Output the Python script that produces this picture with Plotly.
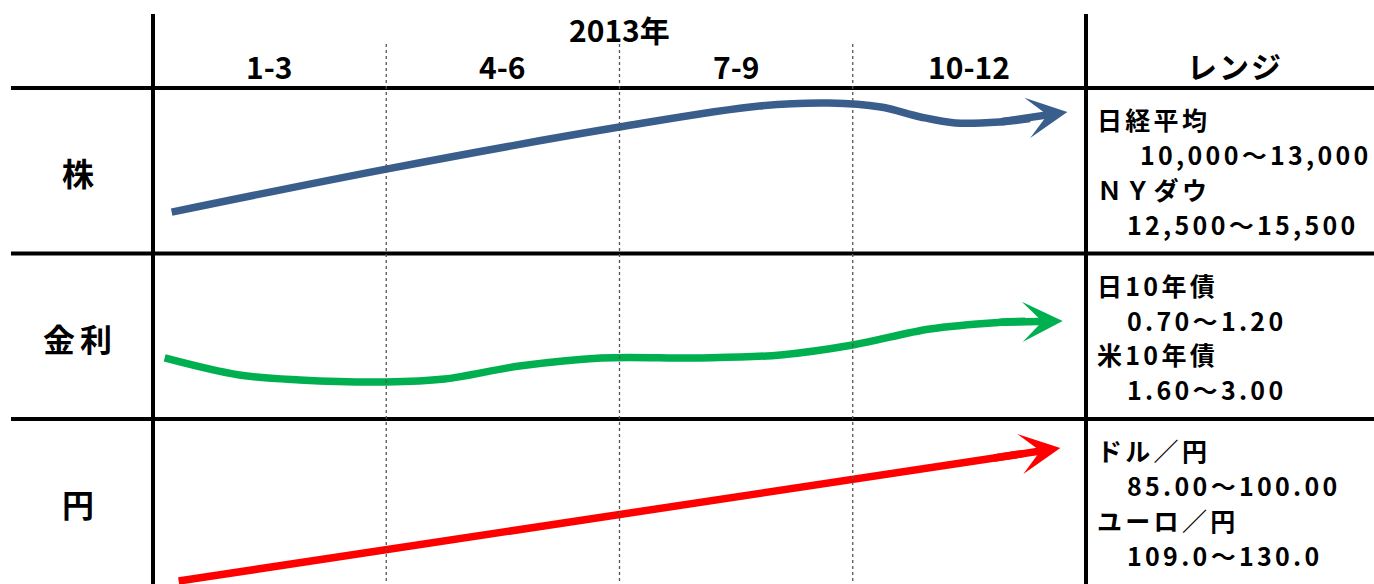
import plotly.graph_objects as go

# ---------------- data ----------------
year_label = "2013年"
quarters = ["1-3", "4-6", "7-9", "10-12"]
range_header = "レンジ"
rows = ["株", "金利", "円"]

# trend paths: x = quarters elapsed in 2013 (0 = start of Jan, 4 = end of Dec),
# y = level inside the row (0 = top edge of the row, 1 = bottom edge)
stock_x = [0.08, 1.00, 2.00, 2.60, 2.90, 3.12, 3.29, 3.44, 3.63, 3.76, 3.92]
stock_y = [0.75, 0.49, 0.236, 0.109, 0.091, 0.115, 0.175, 0.211, 0.205, 0.185, 0.145]

rate_x = [0.05, 0.37, 0.63, 1.00, 1.25, 1.57, 1.92, 2.35, 2.69, 3.00, 3.33, 3.63, 3.74, 3.90]
rate_y = [0.631, 0.734, 0.764, 0.776, 0.758, 0.680, 0.631, 0.631, 0.613, 0.553, 0.456, 0.416, 0.410, 0.408]

yen_x = [0.11, 3.60, 3.73, 3.89]
yen_y = [0.979, 0.237, 0.209, 0.175]

stock_range = ["日経平均", "10,000～13,000", "ＮＹダウ", "12,500～15,500"]
rate_range = ["日10年債", "0.70～1.20", "米10年債", "1.60～3.00"]
yen_range = ["ドル／円", "85.00～100.00", "ユーロ／円", "109.0～130.0"]

# ---------------- layout constants (pixels) ----------------
W, H = 1374, 584
PX_LEFT, PX_Q = 153.0, 233.25    # x pixel of quarter 0, pixels per quarter
PX_TOP, PX_ROW = 88.0, 165.5     # y pixel of first row top, pixels per row


def qx(px):
    return (px - PX_LEFT) / PX_Q


def ry(py):
    return (py - PX_TOP) / PX_ROW


XMIN, XMAX = qx(0), qx(W)
YTOP, YBOT = ry(0), ry(H)

FONT = "Noto Sans CJK JP"
colors = ["#3A5E8C", "#00B050", "#FF0000"]
LW = 7.5

fig = go.Figure()

series = [(stock_x, stock_y), (rate_x, rate_y), (yen_x, yen_y)]
annotations = []
for i, ((xs, ys), col) in enumerate(zip(series, colors)):
    yy = [i + v for v in ys]
    fig.add_trace(go.Scatter(
        x=xs[:-1], y=yy[:-1], mode="lines",
        line=dict(color=col, width=LW, shape="spline", smoothing=1.0),
        hoverinfo="skip", showlegend=False))
    # arrow tail overlaps the last curve segment so no seam is visible
    annotations.append(dict(
        x=xs[-1], y=yy[-1], ax=xs[-3], ay=yy[-3],
        xref="x", yref="y", axref="x", ayref="y",
        text="", showarrow=True, arrowhead=3, arrowwidth=LW,
        arrowsize=0.9, arrowcolor=col, standoff=0))

# grid shapes
shapes = []
for r in range(3):
    shapes.append(dict(type="line", xref="x", yref="y", x0=qx(11), x1=XMAX,
                       y0=r, y1=r, line=dict(color="black", width=4)))
for q in (0, 4):
    shapes.append(dict(type="line", xref="x", yref="y", x0=q, x1=q,
                       y0=ry(14), y1=YBOT, line=dict(color="black", width=4)))
for q in (1, 2, 3):
    shapes.append(dict(type="line", xref="x", yref="y", x0=q, x1=q,
                       y0=ry(44), y1=YBOT,
                       line=dict(color="#555555", width=1.3, dash="dot")))


def txt(s, x, y, size, spacing=0, xanchor="center"):
    if spacing:
        s = f'<span style="letter-spacing:{spacing}px">{s}</span>'
    return dict(text=f"<b>{s}</b>", x=x, y=y, xref="x", yref="y",
                showarrow=False, xanchor=xanchor, yanchor="middle",
                font=dict(family=FONT, size=size, color="black"))


# header
annotations.append(txt(year_label, 2.0, ry(29), 30))
for i, q in enumerate(quarters):
    annotations.append(txt(q, i + 0.5, ry(66), 30))
annotations.append(txt(range_header, qx(1235), ry(65), 30, spacing=2))

# row labels
for i, r in enumerate(rows):
    annotations.append(txt(r, qx(80), i + 0.51, 32, spacing=5))

# range texts
offsets = [0.19, 0.40, 0.61, 0.82]
indent = [qx(1095), qx(1125), qx(1095), qx(1125)]
for i, block in enumerate([stock_range, rate_range, yen_range]):
    for j, line in enumerate(block):
        x = indent[j]
        if i == 0 and j == 1:
            x = qx(1138)
        annotations.append(txt(line, x, i + offsets[j], 25, spacing=3.3,
                               xanchor="left"))

fig.update_layout(
    width=W, height=H, margin=dict(l=0, r=0, t=0, b=0),
    paper_bgcolor="white", plot_bgcolor="white",
    xaxis=dict(range=[XMIN, XMAX], visible=False, fixedrange=True),
    yaxis=dict(range=[YBOT, YTOP], visible=False, fixedrange=True),
    shapes=shapes, annotations=annotations, showlegend=False)

fig.write_html("out.html")
